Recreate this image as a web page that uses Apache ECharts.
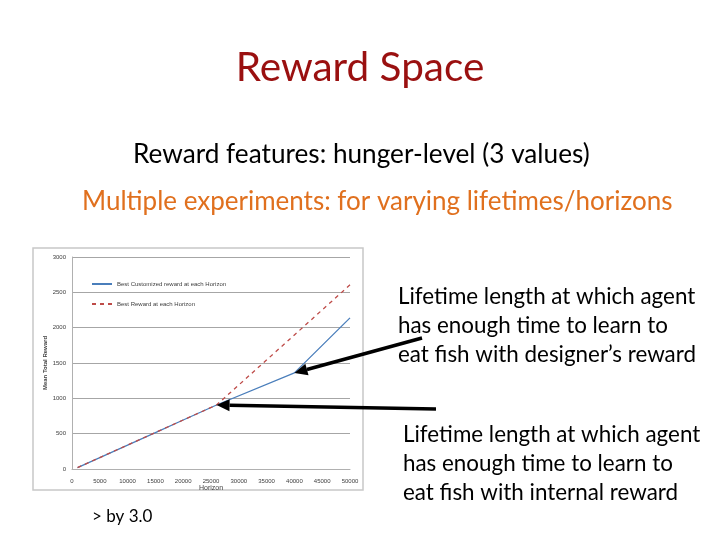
<!DOCTYPE html>
<html>
<head>
<meta charset="utf-8">
<script src="https://cdn.jsdelivr.net/npm/echarts@6/dist/echarts.min.js"></script>
<style>
html,body{margin:0;padding:0;background:#fff;}
#main{width:720px;height:540px;}
</style>
</head>
<body>
<div id="main"></div>
<script>
// ---- data ----
const horizons = [1000, 5000, 10000, 15000, 20000, 26000, 40000, 50000];
const customizedReward = [20, 162, 339, 516, 693, 906, 1360, 2139];
const bestReward = [20, 162, 339, 516, 693, 906, 1897, 2606];
const xTicks = [0, 5000, 10000, 15000, 20000, 25000, 30000, 35000, 40000, 45000, 50000];
const yTicks = [0, 500, 1000, 1500, 2000, 2500, 3000];
const seriesNames = ['Best Customized reward at each Horizon', 'Best Reward at each Horizon'];

const FONT = 'Lato';
const chart = echarts.init(document.getElementById('main'));

const pairs = (xs, ys) => xs.map((x, i) => [x, ys[i]]);

chart.setOption({
  animation: false,
  backgroundColor: '#ffffff',
  grid: { left: 72, right: 370, top: 257, bottom: 71 },
  legend: {
    orient: 'vertical',
    left: 86, top: 276,
    itemGap: 14,
    itemWidth: 20, itemHeight: 6,
    itemStyle: { opacity: 0 },
    textStyle: { fontSize: 6, color: '#404040', fontFamily: 'Liberation Sans' },
    data: seriesNames
  },
  xAxis: {
    type: 'value', min: xTicks[0], max: xTicks[xTicks.length - 1], interval: 5000,
    name: 'Horizon', nameLocation: 'middle', nameGap: 14,
    nameTextStyle: { fontSize: 7, color: '#404040', fontFamily: 'Liberation Sans' },
    axisLine: { show: true, lineStyle: { color: '#b0b0b0' } },
    axisTick: { show: false },
    axisLabel: { fontSize: 6, color: '#404040', margin: 9, fontFamily: 'Liberation Sans', formatter: v => String(v) },
    splitLine: { show: false }
  },
  yAxis: {
    type: 'value', min: yTicks[0], max: yTicks[yTicks.length - 1], interval: 500,
    name: 'Mean Total Reward', nameLocation: 'middle', nameGap: 24, nameRotate: 90,
    nameTextStyle: { fontSize: 6, color: '#404040', fontWeight: 'bold', fontFamily: 'Liberation Sans' },
    axisLine: { show: true, lineStyle: { color: '#b0b0b0' } },
    axisTick: { show: false },
    axisLabel: { fontSize: 6, color: '#404040', margin: 6, fontFamily: 'Liberation Sans', formatter: v => String(v) },
    splitLine: { show: true, lineStyle: { color: '#a6a6a6', width: 1 } }
  },
  series: [
    {
      name: seriesNames[0], type: 'line', symbol: 'none', z: 3,
      data: pairs(horizons, customizedReward),
      lineStyle: { color: '#4A7EBB', width: 1.3 },
      itemStyle: { color: '#4A7EBB' }
    },
    {
      name: seriesNames[1], type: 'line', symbol: 'none', z: 4,
      data: pairs(horizons, bestReward),
      lineStyle: { color: '#BE4B48', width: 1.3, type: [4, 4] },
      itemStyle: { color: '#BE4B48' }
    }
  ]
});

function arrow(tail, tip, w, L, W) {
  const dx = tip[0] - tail[0], dy = tip[1] - tail[1];
  const len = Math.hypot(dx, dy);
  const ux = dx / len, uy = dy / len;
  const nx = -uy, ny = ux;
  const bx = tip[0] - ux * L, by = tip[1] - uy * L;
  return [
    { type: 'polyline', z: 50, shape: { points: [tail, [bx, by]] },
      style: { stroke: '#000', lineWidth: w, fill: null } },
    { type: 'polygon', z: 50, shape: { points: [tip, [bx + nx * W / 2, by + ny * W / 2], [bx - nx * W / 2, by - ny * W / 2]] },
      style: { fill: '#000' } }
  ];
}

const tip1 = chart.convertToPixel({ gridIndex: 0 }, [horizons[6], customizedReward[6]]);
const tip2 = chart.convertToPixel({ gridIndex: 0 }, [horizons[5], customizedReward[5]]);

const txt = (x, y, text, size, color, extra) => ({
  type: 'text', x: x, y: y, z: 60,
  style: Object.assign({ text: text, fontSize: size, fill: color, fontFamily: FONT, verticalAlign: 'middle' }, extra || {})
});

chart.setOption({
  graphic: [
    { type: 'rect', z: -1, shape: { x: 33, y: 248, width: 330, height: 242 },
      style: { fill: 'none', stroke: '#c8c8c8', lineWidth: 1.5 } },
    txt(360, 68, 'Reward Space', 40.5, '#9A1010', { align: 'center' }),
    txt(133, 155, 'Reward features: hunger-level (3 values)', 26.2, '#000000'),
    txt(82, 202, 'Multiple experiments: for varying lifetimes/horizons', 26, '#E0701E'),
    txt(398, 326, 'Lifetime length at which agent\nhas enough time to learn to\neat fish with designer\u2019s reward', 22.4, '#000000', { lineHeight: 29 }),
    txt(403, 464, 'Lifetime length at which agent\nhas enough time to learn to\neat fish with internal reward', 22.4, '#000000', { lineHeight: 29 }),
    txt(92, 517, '> by 3.0', 17, '#000000'),
    ...arrow([422, 338], tip1, 3.5, 13, 12),
    ...arrow([436, 409], tip2, 3.5, 13, 12)
  ]
});
</script>
</body>
</html>
